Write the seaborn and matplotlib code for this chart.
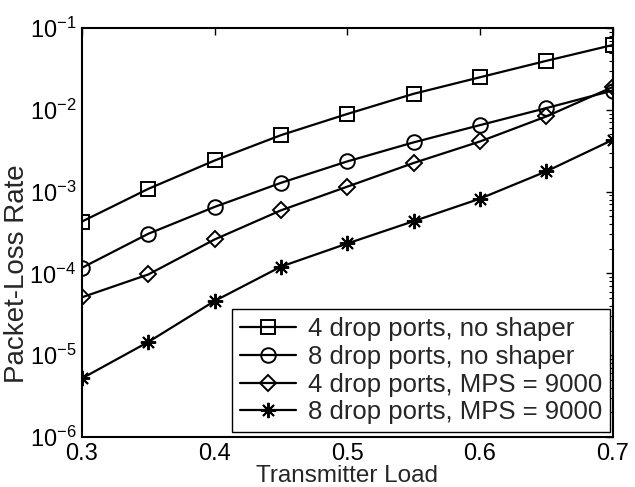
import matplotlib
matplotlib.use("Agg")
import matplotlib.pyplot as plt
import seaborn as sns
from matplotlib.ticker import LogLocator

# data
load = [0.30, 0.35, 0.40, 0.45, 0.50, 0.55, 0.60, 0.65, 0.70]
loss_4_noshaper = [4.3e-4, 1.08e-3, 2.4e-3, 4.9e-3, 8.9e-3, 1.57e-2, 2.5e-2, 3.97e-2, 6.2e-2]
loss_8_noshaper = [1.17e-4, 3.05e-4, 6.5e-4, 1.28e-3, 2.34e-3, 4.0e-3, 6.5e-3, 1.05e-2, 1.72e-2]
loss_4_mps = [5.1e-5, 9.7e-5, 2.6e-4, 5.9e-4, 1.15e-3, 2.24e-3, 4.1e-3, 8.3e-3, 1.9e-2]
loss_8_mps = [5.2e-6, 1.45e-5, 4.6e-5, 1.21e-4, 2.32e-4, 4.35e-4, 8.2e-4, 1.77e-3, 4.3e-3]

labels = ["4 drop ports, no shaper", "8 drop ports, no shaper",
          "4 drop ports, MPS = 9000", "8 drop ports, MPS = 9000"]
markers = ["s", "o", "D", (8, 2, 0)]
sizes = [9.5, 10.5, 8.5, 11]

sns.set_style("white")
plt.rcParams["font.family"] = ["Liberation Sans", "DejaVu Sans"]
plt.rcParams["mathtext.default"] = "regular"

fig = plt.figure(figsize=(6.35, 4.87), dpi=100)
ax = fig.add_axes([0.129, 0.1027, 0.836, 0.8398])

series = [loss_4_noshaper, loss_8_noshaper, loss_4_mps, loss_8_mps]
for vals, lab, mk, ms in zip(series, labels, markers, sizes):
    sns.lineplot(x=load, y=vals, ax=ax, color="black", linewidth=1.6,
                 marker=mk, markersize=ms, markerfacecolor="none",
                 markeredgecolor="black", markeredgewidth=1.4, label=lab)

ax.set_yscale("log")
ax.set_xlim(0.3, 0.7)
ax.set_ylim(1e-6, 1e-1)
ax.set_xticks([0.3, 0.4, 0.5, 0.6, 0.7])
ax.set_xticklabels(["0.3", "0.4", "0.5", "0.6", "0.7"])
ax.yaxis.set_major_locator(LogLocator(base=10, numticks=10))
ax.yaxis.set_minor_locator(LogLocator(base=10, subs=range(2, 10), numticks=10))

ax.tick_params(axis="both", which="both", direction="in", top=True, right=True,
               labelsize=17, colors="black")
ax.tick_params(which="major", length=5, width=1)
ax.tick_params(which="minor", length=3, width=0.8)
ax.tick_params(axis="x", pad=4)
ax.tick_params(axis="y", pad=4)
for s in ax.spines.values():
    s.set_color("black")
    s.set_linewidth(1.5)

ax.set_xlabel("Transmitter Load", fontsize=17.5)
ax.xaxis.set_label_coords(0.5, -0.068)
ax.set_ylabel("Packet-Loss Rate", fontsize=20)
ax.yaxis.set_label_coords(-0.097, 0.40)

leg = ax.legend(loc="lower right", bbox_to_anchor=(0.994, 0.012), borderaxespad=0,
                fontsize=18.5, frameon=True, fancybox=False, handlelength=2.2,
                handletextpad=0.45, labelspacing=0.15, borderpad=0.3)
leg.get_frame().set_edgecolor("black")
leg.get_frame().set_linewidth(1.0)
leg.get_frame().set_alpha(1)

fig.savefig("out.png", dpi=100)
